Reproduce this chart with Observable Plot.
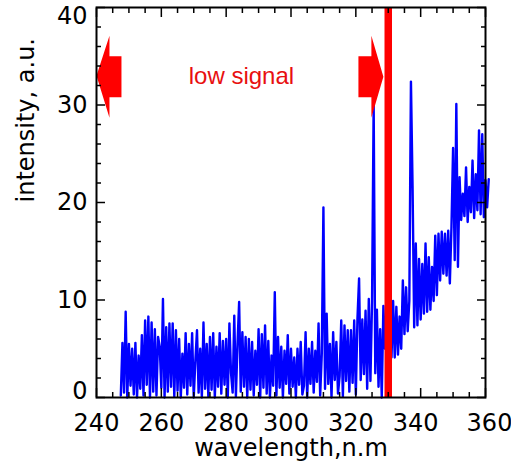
<!DOCTYPE html>
<html>
<head>
<meta charset="utf-8">
<script src="https://cdn.jsdelivr.net/npm/d3@7"></script>
<script src="https://cdn.jsdelivr.net/npm/@observablehq/plot@0.6"></script>
<style>
  html, body { margin: 0; padding: 0; background: #fff; }
</style>
</head>
<body>
<div id="chart"></div>
<script>
// ---- data ----
const wavelengthStart = 247.5;   // nm, first sample
const wavelengthStep = 0.5;      // nm between samples
const intensity = [
  0.2,
  // 248.0 - 257.5
  5.6,0.5,8.8,0.0,5.5,1.2,5.0,0.3,5.6,0.0,4.3,0.9,6.4,0.2,7.9,1.3,8.3,0.0,7.7,0.6,
  // 258.0 - 267.5
  7.0,0.2,6.2,5.2,1.0,10.1,0.0,7.2,0.6,7.6,1.1,7.6,0.1,6.9,0.7,6.0,0.0,4.5,1.0,6.6,
  // 268.0 - 277.5
  0.3,5.5,1.2,6.6,0.0,3.8,6.9,0.5,5.0,0.0,7.7,0.9,5.5,0.1,6.2,0.8,6.6,0.0,5.2,1.1,
  // 278.0 - 287.5
  6.6,0.4,5.8,1.3,6.0,0.0,7.6,2.5,0.5,8.4,0.1,5.5,9.8,0.6,6.7,1.1,6.2,0.0,6.0,0.8,
  // 288.0 - 297.5
  5.7,0.2,4.8,1.3,7.0,0.0,6.5,1.0,7.4,0.4,5.8,0.0,4.3,1.2,10.8,0.2,6.2,1.0,5.2,0.0,
  // 298.0 - 307.5
  4.8,1.4,6.4,0.4,5.0,1.1,4.1,0.0,5.0,1.3,5.7,0.3,1.2,6.7,0.0,5.0,1.4,5.7,0.5,4.8,
  // 308.0 - 317.5
  1.6,7.6,0.2,4.5,19.5,0.9,8.6,1.4,5.5,0.0,6.7,1.8,5.7,0.4,2.2,7.9,0.1,7.4,1.7,6.9,
  // 318.0 - 327.5
  0.6,6.9,1.5,7.9,0.3,8.1,12.2,1.8,8.0,2.4,8.9,0.9,10.1,1.7,9.8,30.1,2.5,9.0,1.1,7.0,
  // 328.0 - 337.5
  0.0,9.4,5.0,8.5,4.5,9.0,4.1,9.9,4.1,9.3,4.4,8.3,5.0,12.0,6.5,11.3,6.8,9.9,32.4,21.7,
  // 338.0 - 347.5
  7.2,15.8,7.4,14.2,8.0,13.7,8.6,15.8,8.8,14.4,9.0,13.4,9.9,16.6,10.5,16.8,12.0,17.0,12.7,16.8,
  // 348.0 - 357.5
  12.5,17.1,11.7,17.5,25.6,14.1,30.1,13.4,22.6,18.2,20.9,18.6,23.6,18.0,21.6,19.0,24.3,18.4,22.9,19.2,
  // 358.0 - 361.0
  27.4,18.8,27.0,18.5,22.3,19.5,22.4
];

const cutoffWavelength = [330];

const arrowLeftX  = [240.0, 244.0, 244.0, 247.7, 247.7, 244.0, 244.0];
const arrowLeftY  = [33.0, 37.1, 35.0, 35.0, 30.8, 30.8, 28.7];
const arrowRightX = [328.5, 324.8, 324.8, 320.8, 320.8, 324.8, 324.8];
const arrowRightY = [32.9, 37.1, 35.0, 35.0, 30.8, 30.8, 28.7];

const annotationText = ["low signal"];
const annotationX = [284.7];
const annotationY = [32.2];

const xLabelsA = [240, 260, 280];
const xLabelsB = [300, 320, 340];
const xLabelsC = [360];
const xMajorTicks = [240, 260, 280, 300, 320, 340, 360];
const xMinorTicks = [245, 250, 255, 265, 270, 275, 285, 290, 295, 305, 310, 315, 325, 330, 335, 345, 350, 355];
const yLabelsMid = [10, 20, 30];
const yLabelBottom = [0];
const yLabelTop = [40];
const yMajorTicks = [0, 10, 20, 30, 40];
const yMinorTicks = [2, 4, 6, 8, 12, 14, 16, 18, 22, 24, 26, 28, 32, 34, 36, 38];

const xTitle = ["wavelength,n.m"];
const yTitle = ["intensity, a.u."];

// ---- build table ----
const spectrum = intensity.map((v, i) => ({
  wavelength: wavelengthStart + i * wavelengthStep,
  intensity: v
}));

// ---- layout ----
const W = 511, H = 470;
const mL = 96, mR = 26, mT = 7, mB = 73;
const majorLen = 9, minorLen = 5;
const blank = () => "";

// inward ticks: an axis tick pushed back inside the frame by its own length
function inwardTicks(scale, anchor, ticks, len) {
  const shift = {
    bottom: {dy: -len}, top: {dy: len}, left: {dx: len}, right: {dx: -len}
  }[anchor];
  const axis = scale === "x" ? Plot.axisX : Plot.axisY;
  return axis({ticks, anchor, tickSize: len, tickFormat: blank, label: null,
    stroke: "black", strokeWidth: 1.5, ...shift});
}

const labelStyle = {label: null, tickSize: 0};

const chart = Plot.plot({
  width: W,
  height: H,
  marginLeft: mL,
  marginRight: mR,
  marginTop: mT,
  marginBottom: mB,
  x: {domain: [240, 360]},
  y: {domain: [0, 40]},
  style: {
    fontFamily: "DejaVu Sans",
    fontSize: "24px",
    color: "black",
    background: "white",
    overflow: "visible"
  },
  marks: [
    Plot.line(spectrum, {x: "wavelength", y: "intensity", stroke: "#0000ff", strokeWidth: 2.4}),
    Plot.ruleX(cutoffWavelength, {stroke: "#ff0000", strokeWidth: 7.5}),
    Plot.line(arrowLeftX, {x: arrowLeftX, y: arrowLeftY, fill: "#ff0000", stroke: "none"}),
    Plot.line(arrowRightX, {x: arrowRightX, y: arrowRightY, fill: "#ff0000", stroke: "none"}),
    Plot.text(annotationText, {x: annotationX, y: annotationY, fill: "#e81010",
      fontFamily: "Liberation Sans", fontSize: 24, lineAnchor: "bottom"}),
    Plot.frame({stroke: "black", strokeWidth: 2}),

    // inward ticks on all four sides
    inwardTicks("x", "bottom", xMajorTicks, majorLen),
    inwardTicks("x", "bottom", xMinorTicks, minorLen),
    inwardTicks("x", "top", xMajorTicks, majorLen),
    inwardTicks("x", "top", xMinorTicks, minorLen),
    inwardTicks("y", "left", yMajorTicks, majorLen),
    inwardTicks("y", "left", yMinorTicks, minorLen),
    inwardTicks("y", "right", yMajorTicks, majorLen),
    inwardTicks("y", "right", yMinorTicks, minorLen),

    // tick labels
    Plot.axisX({...labelStyle, ticks: xLabelsA, anchor: "bottom", tickPadding: 16}),
    Plot.axisX({...labelStyle, ticks: xLabelsB, anchor: "bottom", tickPadding: 16, dx: -5}),
    Plot.axisX({...labelStyle, ticks: xLabelsC, anchor: "bottom", tickPadding: 16, dx: 4}),
    Plot.axisY({...labelStyle, ticks: yLabelsMid, anchor: "left", tickPadding: 9}),
    Plot.axisY({...labelStyle, ticks: yLabelBottom, anchor: "left", tickPadding: 9, dy: -6.5}),
    Plot.axisY({...labelStyle, ticks: yLabelTop, anchor: "left", tickPadding: 9, dy: 8.5}),

    // axis titles
    Plot.text(xTitle, {frameAnchor: "bottom", dy: 51, lineAnchor: "middle"}),
    Plot.text(yTitle, {frameAnchor: "left", dx: -70, rotate: -90, lineAnchor: "middle"})
  ]
});

document.getElementById("chart").appendChild(chart);
</script>
</body>
</html>
